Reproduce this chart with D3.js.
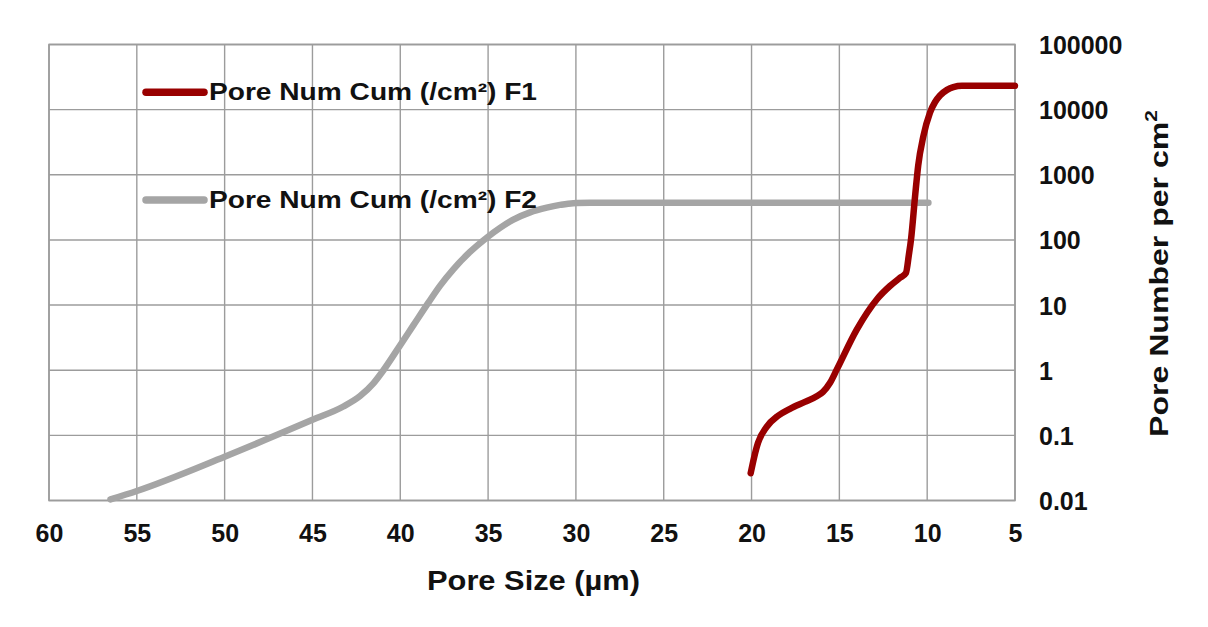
<!DOCTYPE html>
<html>
<head>
<meta charset="utf-8">
<script src="https://cdn.jsdelivr.net/npm/d3@7"></script>
<style>
  html, body { margin: 0; padding: 0; background: #fff; }
  svg { display: block; }
  text { font-family: "Liberation Sans", Arial, sans-serif; font-weight: bold; fill: #111; }
</style>
</head>
<body>
<svg id="chart" width="1208" height="627"></svg>
<script>
// ---- data ----
const xTicks = [60, 55, 50, 45, 40, 35, 30, 25, 20, 15, 10, 5];
const yTicks = [0.01, 0.1, 1, 10, 100, 1000, 10000, 100000];
const yTickLabels = ["0.01", "0.1", "1", "10", "100", "1000", "10000", "100000"];

const f1Size  = [20.05, 19.86, 19.63, 19.14, 18.49, 17.81, 16.96, 16.29, 15.93, 15.53, 15.15, 14.01, 12.87, 12.12, 11.55, 11.21, 11.04, 10.92, 10.69, 10.51, 10.22, 9.84, 9.55, 9.27, 8.87, 8.51, 8.02, 5];
const f1Count = [0.0262, 0.0451, 0.0767, 0.135, 0.2, 0.256, 0.327, 0.398, 0.466, 0.642, 1.02, 4.2, 12.2, 19.6, 26.2, 31, 59.8, 102, 467, 1400, 3880, 9020, 13090, 16480, 20100, 22200, 23200, 23200];

const f2Size  = [56.5, 55.0, 50.0, 45.0, 43.24, 42.29, 41.53, 41.05, 40.01, 39.25, 38.4, 37.73, 36.98, 36.03, 35.08, 34.32, 33.56, 32.61, 31.66, 30.91, 30.15, 29.2, 28.06, 9.93];
const f2Count = [0.0104, 0.014, 0.047, 0.173, 0.277, 0.401, 0.627, 0.923, 2.41, 4.92, 10.9, 19.9, 35.4, 65.3, 108, 153, 205, 265, 313, 345, 367, 371, 372, 372];

const seriesNames = ["Pore Num Cum (/cm\u00B2) F1", "Pore Num Cum (/cm\u00B2) F2"];
const seriesColors = ["#990000", "#a5a5a5"];
const xTitle = "Pore Size (\u00B5m)";
const yTitle = "Pore Number per cm";

// ---- layout ----
const svg = d3.select("#chart");
const L = 49, R = 1015, T = 44.5, B = 500.5;

const x = d3.scaleLinear().domain([60, 5]).range([L, R]);
const y = d3.scaleLog().domain([0.01, 100000]).range([B, T]);

// grid
const grid = svg.append("g");
grid.selectAll("line.v").data(xTicks).join("line")
  .attr("x1", d => x(d)).attr("x2", d => x(d))
  .attr("y1", T).attr("y2", B)
  .attr("stroke", "#9c9c9c").attr("stroke-width", 1.4);
grid.selectAll("line.h").data(yTicks).join("line")
  .attr("x1", L).attr("x2", R)
  .attr("y1", d => y(d)).attr("y2", d => y(d))
  .attr("stroke", "#9c9c9c").attr("stroke-width", 1.4);
grid.append("rect").attr("x", L).attr("y", T).attr("width", R - L).attr("height", B - T)
  .attr("fill", "none").attr("stroke", "#9c9c9c").attr("stroke-width", 1.6);

// x axis
const xAxis = d3.axisBottom(x).tickValues(xTicks).tickSize(0).tickPadding(0).tickFormat(d3.format("d"));
const gx = svg.append("g").attr("transform", `translate(0,${B})`).call(xAxis);
gx.select(".domain").remove();
gx.selectAll("text").attr("font-size", 25).attr("y", 0).attr("dy", 0)
  .attr("transform", "translate(0,41)")
  .style("font-family", "'Liberation Sans', Arial, sans-serif").style("font-weight", "bold").attr("fill", "#111");

// y axis (right side)
const yAxis = d3.axisRight(y).tickValues(yTicks).tickSize(0).tickPadding(0)
  .tickFormat((d, i) => yTickLabels[i]);
const gy = svg.append("g").attr("transform", `translate(1039,0)`).call(yAxis);
gy.select(".domain").remove();
gy.selectAll("text").attr("font-size", 25).attr("x", 0).attr("dy", "0.36em")
  .attr("text-anchor", "start")
  .style("font-family", "'Liberation Sans', Arial, sans-serif").style("font-weight", "bold").attr("fill", "#111");

// titles
svg.append("text").attr("x", 533.5).attr("y", 590).attr("text-anchor", "middle")
  .attr("font-size", 27).attr("textLength", 213).attr("lengthAdjust", "spacingAndGlyphs")
  .text(xTitle);

const yt = svg.append("text")
  .attr("transform", "translate(1168,273.5) rotate(-90)")
  .attr("text-anchor", "middle").attr("font-size", 26)
  .attr("textLength", 327).attr("lengthAdjust", "spacingAndGlyphs");
yt.append("tspan").text(yTitle);
yt.append("tspan").attr("font-size", 17).attr("dy", -11).text("2");

// lines
const line = d3.line().x(d => x(d[0])).y(d => y(d[1])).curve(d3.curveMonotoneX);
const f1 = f1Size.map((s, i) => [s, f1Count[i]]);
const f2 = f2Size.map((s, i) => [s, f2Count[i]]);

svg.append("path").datum(f2).attr("d", line)
  .attr("fill", "none").attr("stroke", seriesColors[1]).attr("stroke-width", 6.5)
  .attr("stroke-linecap", "round").attr("stroke-linejoin", "round");
svg.append("path").datum(f1).attr("d", line)
  .attr("fill", "none").attr("stroke", seriesColors[0]).attr("stroke-width", 6.5)
  .attr("stroke-linecap", "round").attr("stroke-linejoin", "round");

// legend
const legY = [92.3, 200];
const legBase = [100, 208];
seriesNames.forEach((name, i) => {
  svg.append("line").attr("x1", 146).attr("x2", 204).attr("y1", legY[i]).attr("y2", legY[i])
    .attr("stroke", seriesColors[i]).attr("stroke-width", 7.5).attr("stroke-linecap", "round");
  svg.append("text").attr("x", 209).attr("y", legBase[i]).attr("font-size", 23.5)
    .attr("textLength", 328).attr("lengthAdjust", "spacingAndGlyphs")
    .text(name);
});
</script>
</body>
</html>
